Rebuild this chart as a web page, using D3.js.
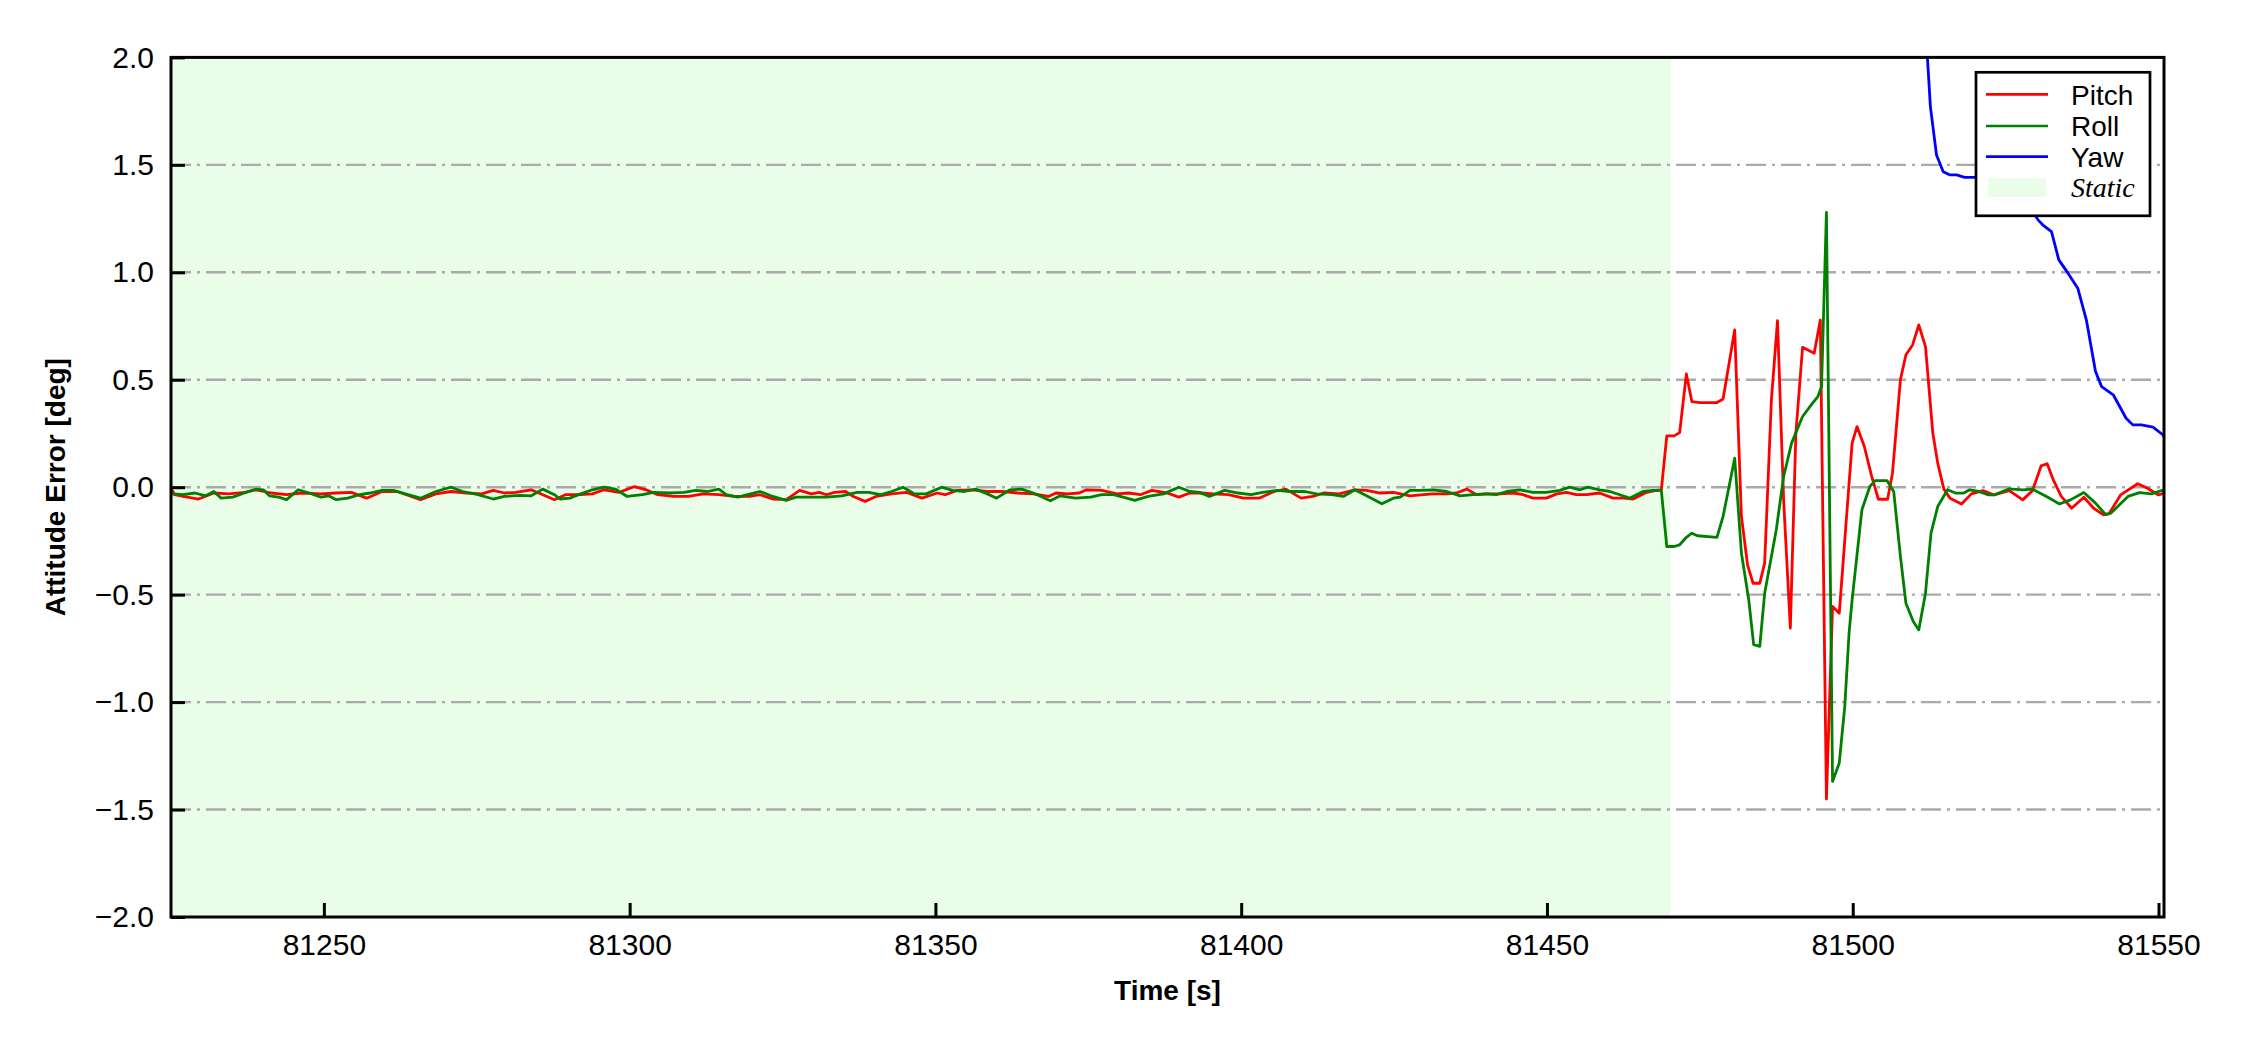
<!DOCTYPE html>
<html lang="en">
<head>
<meta charset="UTF-8">
<title>Attitude Error</title>
<script src="https://d3js.org/d3.v7.min.js"></script>
<style>
  body { margin: 0; background: #fff; }
  svg { display: block; }
  .tick text { font-family: "Liberation Sans", Arial, sans-serif; font-size: 30px; fill: #000; }
  .axis-label { font-family: "Liberation Sans", Arial, sans-serif; font-size: 28px; font-weight: bold; fill: #000; }
  .legend-text { font-family: "Liberation Sans", Arial, sans-serif; font-size: 28px; fill: #000; }
</style>
</head>
<body>
<svg id="chart"></svg>
<script>
// ---- data: [time s, error deg] ----
const pitch = [
  [81225.0,-0.005],[81225.6,-0.035],[81227.0,-0.043],[81229.5,-0.055],[81232.0,-0.027],[81234.5,-0.031],[81237.0,-0.024],
  [81238.9,-0.012],[81241.4,-0.027],[81243.9,-0.035],[81246.4,-0.027],[81249.5,-0.031],[81252.0,-0.027],[81254.5,-0.024],
  [81257.0,-0.051],[81259.5,-0.020],[81262.0,-0.020],[81265.8,-0.058],[81268.3,-0.031],[81270.8,-0.020],[81273.3,-0.027],
  [81275.8,-0.031],[81277.7,-0.015],[81279.5,-0.027],[81281.4,-0.024],[81283.9,-0.012],[81285.8,-0.035],[81287.7,-0.058],
  [81289.5,-0.035],[81292.0,-0.035],[81293.9,-0.031],[81295.8,-0.012],[81298.3,-0.024],[81300.8,0.003],[81302.7,-0.012],
  [81304.6,-0.035],[81307.1,-0.043],[81309.6,-0.043],[81312.1,-0.031],[81314.6,-0.035],[81317.1,-0.043],[81319.6,-0.043],
  [81321.3,-0.035],[81323.4,-0.055],[81325.6,-0.058],[81327.8,-0.015],[81329.7,-0.031],[81331.0,-0.024],[81332.2,-0.035],
  [81333.5,-0.024],[81335.3,-0.020],[81336.6,-0.043],[81338.5,-0.066],[81340.3,-0.043],[81342.8,-0.031],[81345.3,-0.024],
  [81347.8,-0.051],[81350.3,-0.027],[81351.6,-0.035],[81353.5,-0.015],[81356.0,-0.012],[81358.5,-0.020],[81361.0,-0.020],
  [81363.5,-0.027],[81366.0,-0.031],[81368.5,-0.043],[81369.7,-0.027],[81371.6,-0.031],[81373.5,-0.027],[81374.7,-0.012],
  [81377.2,-0.015],[81379.7,-0.031],[81381.6,-0.027],[81383.5,-0.035],[81385.4,-0.015],[81387.9,-0.027],[81389.8,-0.046],
  [81391.6,-0.027],[81393.5,-0.027],[81395.4,-0.031],[81397.9,-0.035],[81400.4,-0.051],[81402.9,-0.051],[81405.4,-0.020],
  [81407.3,-0.009],[81409.8,-0.051],[81411.7,-0.043],[81413.5,-0.027],[81416.0,-0.031],[81418.6,-0.012],[81420.5,-0.015],
  [81422.7,-0.027],[81424.9,-0.024],[81427.6,-0.040],[81429.8,-0.035],[81431.4,-0.031],[81433.6,-0.031],[81435.2,-0.027],
  [81436.9,-0.009],[81438.5,-0.035],[81440.1,-0.031],[81442.3,-0.031],[81444.5,-0.027],[81446.1,-0.035],[81447.7,-0.051],
  [81449.9,-0.051],[81451.6,-0.031],[81453.2,-0.024],[81454.8,-0.035],[81456.5,-0.035],[81458.6,-0.027],[81460.8,-0.051],
  [81462.5,-0.051],[81464.1,-0.055],[81466.3,-0.024],[81467.9,-0.015],[81468.7,-0.012],
  [81469.6,0.239],[81470.8,0.239],[81471.7,0.254],[81472.8,0.527],[81473.7,0.398],[81475.0,0.394],[81477.8,0.394],
  [81478.8,0.410],[81480.7,0.732],[81481.8,-0.136],[81482.8,-0.361],[81483.7,-0.447],[81484.8,-0.447],[81485.6,-0.353],
  [81486.7,0.406],[81487.7,0.775],[81488.7,-0.059],[81489.8,-0.656],[81490.7,0.251],[81491.8,0.651],[81493.7,0.623],
  [81494.7,0.778],[81495.7,-1.451],[81496.7,-0.555],[81497.8,-0.586],[81499.9,0.205],[81500.7,0.282],[81501.9,0.189],
  [81503.1,0.050],[81504.2,-0.056],[81505.7,-0.056],[81506.5,0.065],[81507.8,0.500],[81508.7,0.616],[81509.8,0.662],
  [81510.8,0.755],[81511.9,0.654],[81513.1,0.251],[81513.9,0.112],[81514.9,-0.009],[81515.9,-0.051],[81517.8,-0.078],
  [81519.4,-0.031],[81521.3,-0.016],[81523.1,-0.036],[81525.6,-0.016],[81527.8,-0.059],[81529.4,-0.016],[81530.8,0.099],
  [81531.8,0.109],[81532.8,0.034],[81534.1,-0.043],[81535.8,-0.098],[81537.8,-0.047],[81539.4,-0.098],[81541.0,-0.129],
  [81541.9,-0.124],[81543.8,-0.036],[81546.6,0.016],[81548.2,-0.005],[81550.0,-0.036],[81550.9,-0.028]
];

const roll = [
  [81225.0,-0.030],[81227.0,-0.035],[81228.9,-0.027],[81230.7,-0.040],[81232.0,-0.020],[81233.2,-0.051],[81235.1,-0.046],
  [81237.0,-0.027],[81238.9,-0.009],[81240.1,-0.012],[81241.1,-0.040],[81242.6,-0.046],[81243.9,-0.058],[81245.8,-0.012],
  [81247.6,-0.027],[81249.5,-0.046],[81250.8,-0.040],[81252.0,-0.058],[81253.9,-0.051],[81255.8,-0.035],[81257.6,-0.027],
  [81259.5,-0.015],[81261.4,-0.015],[81263.3,-0.031],[81265.8,-0.051],[81268.3,-0.020],[81270.8,0.000],[81272.7,-0.020],
  [81275.2,-0.035],[81277.7,-0.055],[81279.5,-0.043],[81282.0,-0.038],[81283.9,-0.040],[81285.8,-0.009],[81287.7,-0.035],
  [81288.6,-0.055],[81290.2,-0.051],[81292.0,-0.031],[81293.9,-0.012],[81295.8,0.000],[81297.7,-0.009],[81299.6,-0.043],
  [81302.1,-0.035],[81303.9,-0.024],[81306.4,-0.027],[81308.9,-0.024],[81310.8,-0.015],[81312.7,-0.020],[81314.6,-0.009],
  [81315.8,-0.035],[81317.7,-0.046],[81319.6,-0.032],[81321.3,-0.020],[81323.4,-0.043],[81325.6,-0.061],[81327.2,-0.046],
  [81329.7,-0.046],[81332.2,-0.046],[81334.7,-0.040],[81337.2,-0.024],[81339.1,-0.024],[81341.0,-0.035],[81342.8,-0.020],
  [81344.7,0.000],[81346.6,-0.031],[81348.5,-0.031],[81351.0,0.000],[81352.8,-0.015],[81354.7,-0.020],[81356.6,-0.009],
  [81358.5,-0.031],[81360.0,-0.051],[81362.2,-0.012],[81364.1,-0.009],[81366.0,-0.027],[81368.8,-0.063],[81370.4,-0.040],
  [81372.9,-0.051],[81375.4,-0.046],[81377.2,-0.035],[81379.1,-0.035],[81380.7,-0.046],[81382.6,-0.061],[81384.8,-0.043],
  [81387.3,-0.031],[81389.8,0.000],[81391.6,-0.020],[81393.2,-0.024],[81394.8,-0.043],[81397.3,-0.015],[81399.5,-0.027],
  [81401.6,-0.035],[81403.5,-0.024],[81406.0,-0.015],[81407.9,-0.020],[81410.4,-0.020],[81412.3,-0.031],[81414.8,-0.035],
  [81416.7,-0.043],[81418.6,-0.012],[81420.5,-0.040],[81423.0,-0.077],[81424.9,-0.051],[81426.0,-0.046],[81427.6,-0.015],
  [81429.2,-0.015],[81431.4,-0.012],[81433.6,-0.020],[81435.8,-0.040],[81437.9,-0.035],[81440.1,-0.031],[81441.7,-0.035],
  [81443.4,-0.020],[81445.6,-0.012],[81447.7,-0.024],[81449.9,-0.024],[81452.1,-0.015],[81453.7,0.000],[81455.4,-0.012],
  [81456.7,0.000],[81458.6,-0.012],[81460.3,-0.020],[81461.9,-0.035],[81463.5,-0.051],[81465.7,-0.020],[81467.4,-0.015],
  [81468.7,-0.015],
  [81469.6,-0.276],[81470.8,-0.276],[81471.7,-0.268],[81472.8,-0.233],[81473.7,-0.214],[81474.6,-0.226],[81477.8,-0.233],
  [81478.8,-0.136],[81480.7,0.135],[81481.8,-0.307],[81483.0,-0.524],[81483.8,-0.733],[81484.8,-0.741],[81485.6,-0.493],
  [81487.5,-0.198],[81488.7,0.050],[81490.0,0.205],[81491.8,0.329],[81493.4,0.390],[81494.3,0.422],[81494.9,0.468],
  [81495.7,1.279],[81496.7,-1.369],[81497.8,-1.283],[81498.7,-1.020],[81499.4,-0.679],[81499.9,-0.524],[81501.5,-0.105],
  [81502.8,0.003],[81503.7,0.031],[81505.6,0.031],[81506.7,-0.020],[81507.8,-0.322],[81508.7,-0.540],[81509.9,-0.625],
  [81510.8,-0.664],[81511.9,-0.493],[81512.8,-0.214],[81513.9,-0.090],[81515.5,-0.012],[81516.9,-0.028],[81518.1,-0.028],
  [81519.1,-0.012],[81520.6,-0.020],[81522.2,-0.036],[81523.1,-0.036],[81525.6,-0.008],[81527.8,-0.012],[81529.4,-0.009],
  [81531.9,-0.047],[81533.8,-0.078],[81535.6,-0.059],[81537.8,-0.025],[81539.7,-0.074],[81541.3,-0.126],[81542.2,-0.121],
  [81545.0,-0.043],[81546.9,-0.025],[81548.8,-0.031],[81550.9,-0.012]
];

const yaw = [
  [81512.0,2.100],[81512.7,1.771],[81513.7,1.546],[81514.8,1.468],[81515.9,1.453],[81517.0,1.453],[81518.3,1.442],
  [81519.9,1.442],[81521.5,1.440],[81523.5,1.430],[81525.5,1.400],[81527.5,1.350],[81529.3,1.290],[81530.3,1.244],
  [81531.1,1.220],[81532.5,1.189],[81533.7,1.058],[81535.2,0.996],[81536.8,0.926],[81538.2,0.779],[81539.7,0.538],
  [81540.7,0.468],[81542.6,0.430],[81544.7,0.321],[81545.8,0.290],[81547.2,0.290],[81549.1,0.280],[81550.7,0.244],
  [81550.9,0.235]
];

const staticSpan = [81225, 81470.2];
const xDomain = [81225, 81550.9];
const yDomain = [-2, 2];
const xTicks = [81250, 81300, 81350, 81400, 81450, 81500, 81550];
const yTicks = [-2, -1.5, -1, -0.5, 0, 0.5, 1, 1.5, 2];
const gridValues = [-1.5, -1, -0.5, 0, 0.5, 1, 1.5];

const series = [
  { name: "Pitch", color: "#ff0000", data: pitch },
  { name: "Roll", color: "#008000", data: roll },
  { name: "Yaw", color: "#0000ff", data: yaw }
];

// ---- layout ----
const W = 2250, H = 1050;
const margin = { left: 171, top: 57.4, right: 86, bottom: 133 };
const plotW = W - margin.left - margin.right;
const plotH = H - margin.top - margin.bottom;
const staticFill = "#e9fde9";

const svg = d3.select("#chart").attr("width", W).attr("height", H);

const x = d3.scaleLinear().domain(xDomain).range([0, plotW]);
const y = d3.scaleLinear().domain(yDomain).range([plotH, 0]);

const g = svg.append("g").attr("transform", `translate(${margin.left},${margin.top})`);

g.append("clipPath").attr("id", "plot-clip")
  .append("rect").attr("width", plotW).attr("height", plotH);

// static shading
g.append("rect")
  .attr("x", x(staticSpan[0]))
  .attr("y", 0)
  .attr("width", x(staticSpan[1]) - x(staticSpan[0]))
  .attr("height", plotH)
  .attr("fill", staticFill);

// grid
g.append("g").selectAll("line")
  .data(gridValues)
  .join("line")
  .attr("x1", 0).attr("x2", plotW)
  .attr("y1", d => y(d)).attr("y2", d => y(d))
  .attr("stroke", "#aaaaaa")
  .attr("stroke-width", 2.4)
  .attr("stroke-dasharray", "20,6,3,6");

// lines
const line = d3.line().x(d => x(d[0])).y(d => y(d[1]));
g.append("g").attr("clip-path", "url(#plot-clip)")
  .selectAll("path")
  .data(series)
  .join("path")
  .attr("d", d => line(d.data))
  .attr("fill", "none")
  .attr("stroke", d => d.color)
  .attr("stroke-width", 2.8)
  .attr("stroke-linejoin", "round");

// axes (ticks pointing inward)
const xAxis = g.append("g")
  .attr("transform", `translate(0,${plotH})`)
  .call(d3.axisBottom(x).tickValues(xTicks).tickFormat(d3.format("d"))
    .tickSizeInner(-14).tickSizeOuter(0).tickPadding(17));
const yAxis = g.append("g")
  .call(d3.axisLeft(y).tickValues(yTicks).tickFormat(d3.format(".1f"))
    .tickSizeInner(-14).tickSizeOuter(0).tickPadding(17));
[xAxis, yAxis].forEach(a => {
  a.select(".domain").remove();
  a.selectAll(".tick line").attr("stroke", "#000").attr("stroke-width", 3);
});

// frame
g.append("rect")
  .attr("width", plotW).attr("height", plotH)
  .attr("fill", "none").attr("stroke", "#000").attr("stroke-width", 3);

// axis labels
svg.append("text").attr("class", "axis-label")
  .attr("x", margin.left + plotW / 2).attr("y", 1000)
  .attr("text-anchor", "middle")
  .text("Time [s]");
svg.append("text").attr("class", "axis-label")
  .attr("transform", `translate(65,${margin.top + plotH / 2}) rotate(-90)`)
  .attr("text-anchor", "middle")
  .text("Attitude Error [deg]");

// legend
const lg = svg.append("g").attr("transform", "translate(1976,72.3)");
lg.append("rect")
  .attr("width", 174).attr("height", 143.5)
  .attr("fill", "#fff").attr("stroke", "#000").attr("stroke-width", 2.7);
const rowY = [22, 53.7, 84.4];
series.forEach((s, i) => {
  lg.append("line")
    .attr("x1", 10).attr("x2", 72)
    .attr("y1", rowY[i]).attr("y2", rowY[i])
    .attr("stroke", s.color).attr("stroke-width", 2.7);
  lg.append("text").attr("class", "legend-text")
    .attr("x", 95).attr("y", rowY[i] + 10.5)
    .text(s.name);
});
lg.append("rect")
  .attr("x", 12).attr("y", 106).attr("width", 58).attr("height", 18.5)
  .attr("fill", staticFill);
lg.append("text")
  .attr("x", 95).attr("y", 124.4)
  .attr("font-family", "'Liberation Serif', 'Times New Roman', serif")
  .attr("font-style", "italic")
  .attr("font-size", 28)
  .text("Static");
</script>
</body>
</html>
